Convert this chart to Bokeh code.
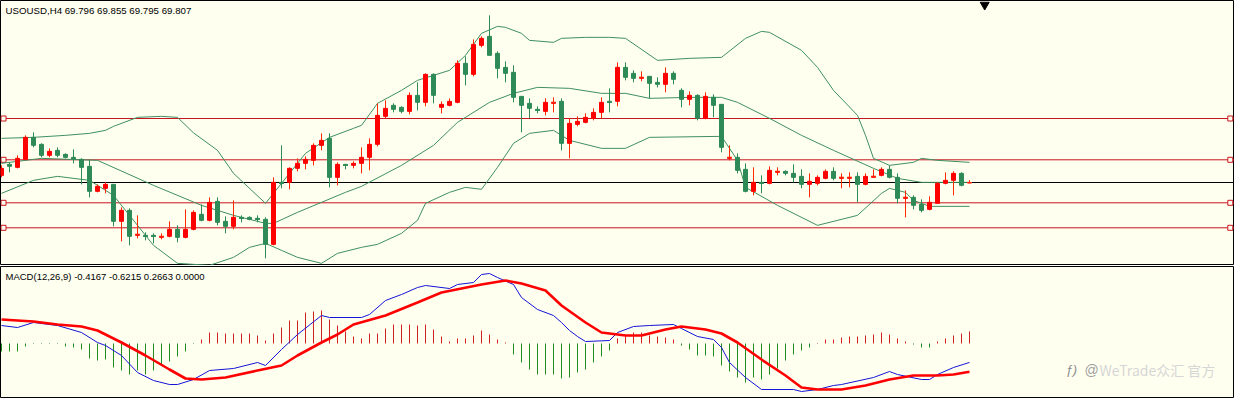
from bokeh.plotting import figure
from bokeh.layouts import column
from bokeh.models import Range1d, Label, ColumnDataSource
from bokeh.embed import file_html
from bokeh.resources import INLINE

# ---------------- data ----------------
title_main = "USOUSD,H4  69.796 69.855 69.795 69.807"
title_macd = "MACD(12,26,9) -0.4167 -0.6215 0.2663 0.0000"

opens = [69.95, 70.17, 70.11, 70.27, 70.71, 70.57, 70.35, 70.45, 70.37, 70.31,
         70.27, 70.13, 69.63, 69.69, 69.77, 69.03, 69.25, 68.75, 68.75, 68.75,
         68.71, 68.73, 68.87, 68.71, 68.87, 69.17, 69.05, 69.43, 69.03, 68.93,
         69.11, 69.11, 69.09, 69.07, 68.57, 69.81, 69.81, 70.09, 70.19, 70.25,
         70.55, 70.69, 69.91, 70.17, 70.15, 70.19, 70.31, 70.57, 71.13, 71.35,
         71.31, 71.23, 71.55, 71.41, 71.97, 71.31, 71.35, 71.41, 72.19, 71.97,
         72.55, 72.73, 72.39, 72.11, 72.01, 71.53, 71.39, 71.27, 71.23, 71.39,
         71.43, 70.59, 70.97, 71.01, 71.09, 71.21, 71.43, 71.43, 72.11, 71.99,
         71.89, 71.93, 71.81, 71.77, 71.99, 71.65, 71.47, 71.55, 71.09, 71.51,
         71.37, 70.29, 70.31, 70.07, 69.63, 69.81, 69.79, 70.01, 70.03, 69.99,
         69.93, 69.77, 69.79, 69.89, 70.03, 69.89, 69.89, 69.93, 69.77, 69.91,
         69.95, 70.07, 69.91, 69.49, 69.51, 69.37, 69.27, 69.39, 69.79, 69.85,
         69.99, 69.796]
highs = [70.15, 70.21, 70.35, 70.75, 70.81, 70.59, 70.49, 70.51, 70.39, 70.47,
         70.29, 70.27, 69.77, 69.81, 69.77, 69.31, 69.29, 69.15, 68.81, 68.79,
         68.79, 69.03, 68.95, 69.27, 69.25, 69.37, 69.51, 69.51, 69.13, 69.45,
         69.15, 69.13, 69.15, 69.11, 69.91, 70.55, 70.11, 70.29, 70.33, 70.59,
         70.79, 70.79, 70.21, 70.17, 70.23, 70.51, 70.69, 71.39, 71.45, 71.39,
         71.33, 71.61, 71.81, 71.99, 71.99, 71.43, 71.49, 72.25, 72.33, 72.67,
         72.73, 73.15, 72.43, 72.23, 72.15, 71.53, 71.49, 71.33, 71.49, 71.51,
         71.49, 71.09, 71.13, 71.19, 71.29, 71.51, 71.69, 72.21, 72.21, 72.05,
         72.03, 71.93, 71.91, 72.11, 72.03, 71.69, 71.63, 71.57, 71.61, 71.57,
         71.37, 70.55, 70.39, 70.19, 70.11, 69.95, 70.13, 70.11, 70.05, 70.17,
         70.07, 69.99, 69.95, 70.07, 70.11, 69.99, 70.01, 70.01, 69.99, 70.07,
         70.11, 70.15, 69.99, 69.65, 69.55, 69.47, 69.53, 69.81, 70.01, 70.03,
         70.01, 69.855]
lows = [69.91, 70.01, 70.09, 70.25, 70.51, 70.31, 70.31, 70.31, 70.29, 70.19,
        69.77, 69.51, 69.61, 69.59, 68.93, 68.63, 68.55, 68.69, 68.65, 68.59,
        68.67, 68.71, 68.61, 68.69, 68.85, 69.03, 69.03, 68.95, 68.79, 68.87,
        69.01, 69.05, 69.01, 68.29, 68.55, 69.69, 69.67, 70.03, 70.07, 70.15,
        70.45, 69.71, 69.75, 70.07, 70.09, 69.99, 70.05, 70.53, 71.09, 71.21,
        71.19, 71.17, 71.25, 71.33, 71.39, 71.19, 71.33, 71.39, 71.75, 71.93,
        72.51, 72.35, 71.89, 71.81, 71.41, 70.81, 71.09, 71.19, 71.15, 71.21,
        70.45, 70.29, 70.93, 70.99, 71.05, 71.09, 71.21, 71.33, 71.85, 71.81,
        71.83, 71.49, 71.71, 71.61, 71.77, 71.31, 71.35, 71.05, 71.07, 71.11,
        70.41, 70.25, 69.99, 69.61, 69.55, 69.59, 69.77, 69.95, 69.95, 69.81,
        69.69, 69.51, 69.75, 69.87, 69.85, 69.69, 69.71, 69.41, 69.75, 69.91,
        69.93, 69.89, 69.39, 69.11, 69.27, 69.21, 69.25, 69.39, 69.77, 69.55,
        69.73, 69.795]
closes = [70.09, 70.13, 70.29, 70.71, 70.55, 70.35, 70.43, 70.35, 70.31, 70.29,
          70.11, 69.63, 69.73, 69.77, 69.03, 69.25, 68.73, 68.77, 68.73, 68.73,
          68.73, 68.87, 68.71, 68.87, 69.21, 69.05, 69.41, 69.01, 68.93, 69.11,
          69.09, 69.07, 69.07, 68.57, 69.81, 69.79, 70.09, 70.19, 70.27, 70.55,
          70.65, 69.91, 70.17, 70.15, 70.19, 70.31, 70.57, 71.15, 71.29, 71.27,
          71.23, 71.55, 71.41, 71.97, 71.55, 71.37, 71.43, 72.19, 71.97, 72.57,
          72.69, 72.35, 72.09, 71.99, 71.51, 71.35, 71.29, 71.25, 71.41, 71.41,
          70.59, 70.99, 71.03, 71.11, 71.21, 71.41, 71.41, 72.11, 71.91, 71.89,
          71.91, 71.79, 71.77, 71.99, 71.87, 71.47, 71.55, 71.09, 71.53, 71.35,
          70.51, 70.31, 70.05, 69.63, 69.81, 69.79, 70.05, 70.03, 69.99, 69.91,
          69.77, 69.83, 69.91, 70.03, 69.89, 69.91, 69.91, 69.77, 69.93, 69.93,
          70.07, 69.91, 69.49, 69.51, 69.35, 69.25, 69.41, 69.79, 69.85, 69.99,
          69.75, 69.807]

# Bollinger bands (bar index, price)
bb_upper_idx = [0, 4, 8, 11, 13, 14, 17, 20, 22, 24, 27, 29, 33, 34, 36, 38, 41, 44, 45, 47,
                50, 52, 54, 56, 58, 60, 62, 63, 65, 66, 69, 70, 73, 76, 78, 82, 86, 90, 93, 95,
                96, 100, 102, 104, 107, 108, 109, 111, 114, 115, 117, 121]
bb_upper = [70.69, 70.71, 70.75, 70.79, 70.85, 70.93, 71.11, 71.13, 71.11, 70.80, 70.45, 69.99,
            69.39, 69.59, 69.99, 70.39, 70.71, 70.89, 70.95, 71.39, 71.65, 71.85, 71.95, 72.05,
            72.35, 72.79, 72.93, 72.91, 72.79, 72.65, 72.61, 72.69, 72.71, 72.71, 72.69, 72.25,
            72.29, 72.31, 72.69, 72.83, 72.81, 72.45, 72.11, 71.65, 71.15, 70.75, 70.29, 70.15,
            70.21, 70.29, 70.25, 70.21]
bb_mid_idx = [0, 5, 12, 19, 25, 29, 33, 34, 37, 40, 43, 45, 50, 54, 57, 61, 64, 67, 71, 75,
              78, 81, 86, 90, 92, 96, 100, 104, 109, 112, 115, 121]
bb_mid = [70.19, 70.29, 70.25, 69.75, 69.35, 69.15, 68.99, 68.99, 69.21, 69.41, 69.61, 69.73,
          70.15, 70.55, 71.01, 71.41, 71.59, 71.71, 71.69, 71.59, 71.59, 71.49, 71.51, 71.51,
          71.41, 71.09, 70.75, 70.45, 70.09, 69.89, 69.81, 69.81]
bb_low_idx = [0, 4, 7, 11, 14, 19, 22, 26, 29, 31, 33, 35, 37, 40, 42, 45, 47, 50, 52, 53,
              56, 58, 60, 62, 64, 66, 69, 71, 75, 78, 81, 90, 92, 93, 97, 102, 107, 110, 111,
              113, 114, 116, 121]
bb_low = [69.59, 69.85, 69.93, 69.85, 69.55, 68.55, 68.19, 68.15, 68.31, 68.51, 68.59, 68.45,
          68.31, 68.19, 68.39, 68.51, 68.57, 68.79, 69.05, 69.39, 69.61, 69.71, 69.67, 70.11,
          70.59, 70.79, 70.85, 70.65, 70.49, 70.49, 70.71, 70.73, 70.25, 69.71, 69.35, 68.95,
          69.15, 69.59, 69.69, 69.61, 69.45, 69.33, 69.33]

# horizontal levels
red_levels = [71.087, 70.261, 69.401, 68.901]
bid_level = 69.807

# MACD main line (blue) and signal (red), sampled at bar indices
macd_idx = [0, 2, 4, 7, 10, 12, 13, 15, 17, 19, 21, 22, 24, 26, 29, 32, 33, 35, 37, 40,
            41, 45, 46, 48, 50, 52, 53, 56, 57, 59, 60, 61, 62, 64, 65, 67, 69, 70, 71, 72,
            73, 76, 77, 79, 81, 84, 85, 87, 89, 90, 91, 93, 95, 99, 100, 102, 104, 105, 109, 111,
            112, 115, 116, 117, 119, 121]
macd_main = [0.396, 0.352, 0.462, 0.396, 0.242, 0.022, -0.044, -0.264, -0.638, -0.814,
             -0.902, -0.902, -0.792, -0.594, -0.55, -0.418, -0.484, -0.132, 0.198, 0.616,
             0.572, 0.572, 0.638, 0.946, 1.078, 1.232, 1.276, 1.21, 1.298, 1.342,
             1.518, 1.54, 1.452, 1.298, 1.012, 0.748, 0.616, 0.462, 0.286, 0.154,
             0.044, 0.066, 0.242, 0.374, 0.396, 0.418, 0.33, 0.154, 0.088, -0.088,
             -0.418, -0.748, -1.012, -1.012, -1.056, -1.012, -0.924, -0.902, -0.748, -0.616,
             -0.682, -0.792, -0.792, -0.682, -0.528, -0.4167]
sig_idx = [0, 4, 7, 10, 12, 15, 18, 21, 23, 25, 28, 32, 35, 37, 40, 42, 44, 48, 52, 55,
           60, 63, 65, 68, 70, 73, 75, 78, 80, 83, 85, 88, 90, 92, 95, 98, 100, 102, 105, 108,
           111, 114, 117, 119, 121]
macd_signal = [0.528, 0.484, 0.418, 0.374, 0.286, 0.022, -0.264, -0.572, -0.77, -0.792,
               -0.748, -0.594, -0.484, -0.264, 0.022, 0.198, 0.418, 0.616, 0.902, 1.122,
               1.298, 1.386, 1.32, 1.166, 0.836, 0.462, 0.242, 0.176, 0.176, 0.308,
               0.374, 0.308, 0.22, 0.022, -0.352, -0.704, -0.968, -1.012, -1.012, -0.924,
               -0.792, -0.704, -0.704, -0.682, -0.6215]
macd_hist = [-0.176, -0.176, -0.176, -0.066, -0.011, -0.011, -0.011, -0.011, -0.066, -0.088,
             -0.132, -0.33, -0.374, -0.352, -0.528, -0.594, -0.682, -0.594, -0.682, -0.594,
             -0.484, -0.396, -0.286, -0.176, -0.011, 0.088, 0.242, 0.242, 0.22, 0.22,
             0.22, 0.22, 0.176, 0.066, 0.22, 0.352, 0.506, 0.506, 0.682, 0.704,
             0.726, 0.528, 0.396, 0.264, 0.154, 0.11, 0.22, 0.22, 0.33, 0.418,
             0.418, 0.418, 0.396, 0.418, 0.308, 0.154, 0.044, 0.11, 0.11, 0.176,
             0.286, 0.198, 0.088, 0.022, -0.242, -0.418, -0.572, -0.682, -0.682, -0.682,
             -0.77, -0.748, -0.638, -0.572, -0.418, -0.286, -0.154, 0.11, 0.154, 0.242,
             0.242, 0.176, 0.154, 0.132, 0.088, -0.044, -0.132, -0.264, -0.264, -0.286,
             -0.484, -0.616, -0.748, -0.858, -0.748, -0.792, -0.682, -0.55, -0.374, -0.242,
             -0.154, -0.088, 0.011, 0.088, 0.088, 0.132, 0.154, 0.154, 0.176, 0.198,
             0.242, 0.198, 0.11, 0.044, -0.022, -0.088, -0.088, 0.044, 0.11, 0.176,
             0.22, 0.2663]

# ---------------- styling ----------------
BG = "#FFFFF0"
UP = "#FF0000"
UP_WICK = "#FF2A00"
DN = "#2E8B57"
BAND = "#3F8F5F"
LEVEL = "#C8141E"
HIST_UP = "#D42020"
HIST_DN = "#228B22"
W = 1234
H_MAIN = 265
H_MACD = 132
XR = (-0.125, 154.125)

n = len(opens)
idx = list(range(n))
up = [c >= o for o, c in zip(opens, closes)]


def mkfig(h, yr):
    f = figure(width=W, height=h, x_range=Range1d(*XR), y_range=Range1d(*yr),
               x_axis_type=None, y_axis_type=None, toolbar_location=None,
               output_backend="svg", min_border=0,
               background_fill_color=BG, border_fill_color=BG)
    f.outline_line_color = "black"
    f.outline_line_width = 1
    return f


p = mkfig(H_MAIN, (68.147, 73.447))

# horizontal levels
for lv in red_levels:
    p.line([XR[0], XR[1]], [lv, lv], line_color=LEVEL, line_width=1)
p.scatter([0.25] * 4 + [153.6] * 4, red_levels + red_levels, marker="square", size=5,
          line_color=LEVEL, fill_color=BG, line_width=1)
p.line([XR[0], XR[1]], [bid_level, bid_level], line_color="black", line_width=1)

# bollinger bands
p.line(bb_upper_idx, bb_upper, line_color=BAND, line_width=1)
p.line(bb_mid_idx, bb_mid, line_color=BAND, line_width=1)
p.line(bb_low_idx, bb_low, line_color=BAND, line_width=1)

# candles
src = ColumnDataSource(dict(
    x=idx, o=opens, h=highs, l=lows, c=closes,
    top=[max(o, c) for o, c in zip(opens, closes)],
    bot=[min(o, c) for o, c in zip(opens, closes)],
    body=[UP if u else DN for u in up],
    wick=[UP_WICK if u else DN for u in up],
))
p.segment("x", "h", "x", "l", source=src, line_color="wick", line_width=1)
p.vbar(x="x", top="top", bottom="bot", width=0.5, source=src,
       fill_color="body", line_color="body", line_width=1)
doji = [i for i in idx if abs(closes[i] - opens[i]) < 0.03]
p.segment([i - 0.31 for i in doji], [closes[i] for i in doji],
          [i + 0.31 for i in doji], [closes[i] for i in doji],
          line_color=[UP_WICK if up[i] else DN for i in doji], line_width=1)

# shift marker
p.scatter([122.9], [73.36], marker="inverted_triangle", size=9, fill_color="black",
          line_color="black")

p.add_layout(Label(x=5, y=H_MAIN - 4, x_units="screen", y_units="screen",
                   text=title_main, text_font="Liberation Sans", text_font_size="9.7px",
                   text_baseline="top", text_color="#000000"))

# ---------------- MACD ----------------
m = mkfig(H_MACD, (-1.21, 1.694))
pos = [i for i in idx if macd_hist[i] >= 0]
neg = [i for i in idx if macd_hist[i] < 0]
m.segment(x0=pos, y0=[0] * len(pos), x1=pos, y1=[macd_hist[i] for i in pos],
          line_color=HIST_UP, line_width=1)
m.segment(x0=neg, y0=[0] * len(neg), x1=neg, y1=[macd_hist[i] for i in neg],
          line_color=HIST_DN, line_width=1)
m.line(macd_idx, macd_main, line_color="#1414D8", line_width=1)
m.line(sig_idx, macd_signal, line_color="#FF0000", line_width=2.6)

m.add_layout(Label(x=5, y=H_MACD - 4, x_units="screen", y_units="screen",
                   text=title_macd, text_font="Liberation Sans", text_font_size="9.5px",
                   text_baseline="top", text_color="#000000"))
m.add_layout(Label(x=1065, y=29, x_units="screen", y_units="screen",
                   text="ƒ)", text_font="Liberation Sans", text_font_size="13px",
                   text_font_style="italic", text_baseline="middle", text_color="#909090"))
m.add_layout(Label(x=1084, y=29, x_units="screen", y_units="screen",
                   text="@", text_font="Liberation Sans", text_font_size="14px",
                   text_baseline="middle", text_color="#A0A0A0"))
m.add_layout(Label(x=1099, y=29, x_units="screen", y_units="screen",
                   text="WeTrade众汇 官方", text_font="Noto Sans CJK SC", text_font_size="14px",
                   text_baseline="middle", text_color="#D6D6D6"))

layout = column(p, m, spacing=1)
open("out.html", "w").write(file_html(layout, INLINE))
